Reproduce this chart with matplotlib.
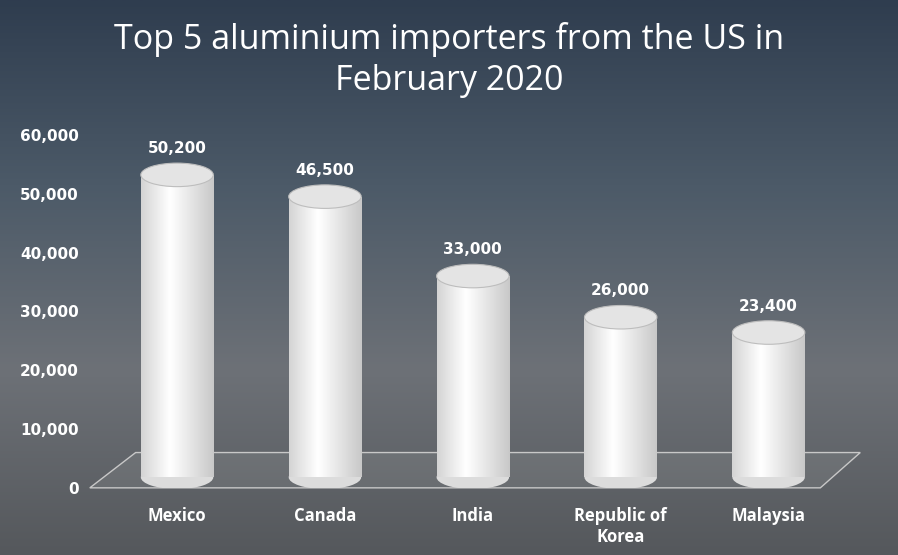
import numpy as np
import matplotlib
matplotlib.use("Agg")
import matplotlib.pyplot as plt
from matplotlib.patches import Ellipse, Rectangle, Polygon

countries = ["Mexico", "Canada", "India", "Republic of\nKorea", "Malaysia"]
values = [50200, 46500, 33000, 26000, 23400]
labels = ["50,200", "46,500", "33,000", "26,000", "23,400"]
yticks = [0, 10000, 20000, 30000, 40000, 50000, 60000]

fig = plt.figure(figsize=(8.98, 5.55), dpi=100)
bg = fig.add_axes([0, 0, 1, 1])
grad = np.linspace(0, 1, 256).reshape(-1, 1)
cmap = matplotlib.colors.LinearSegmentedColormap.from_list("bg", ["#2f3d4f", "#4c5a68", "#6d7177", "#55585c"])
bg.imshow(grad, aspect="auto", cmap=cmap, extent=[0, 1, 0, 1])
bg.axis("off")

fig.text(0.5, 0.96, "Top 5 aluminium importers from the US in\nFebruary 2020", ha="center", va="top",
         color="white", fontsize=24.5, family="Open Sans", linespacing=1.25)

ax = fig.add_axes([0.10, 0.121, 0.858, 0.636])
ax.set_facecolor("none")
for s in ax.spines.values():
    s.set_visible(False)
ax.set_yticks(yticks)
ax.set_yticklabels([f"{v:,}" for v in yticks], color="white", fontsize=11, fontweight="bold")
ax.set_xticks(range(len(countries)))
ax.set_xticklabels(countries, color="white", fontsize=12, fontweight="bold", family="Open Sans")
ax.tick_params(length=0, pad=8)
ax.tick_params(axis="x", pad=14)

floor = Polygon([[-0.59, 0], [4.35, 0], [4.62, 6000], [-0.28, 6000]], closed=True,
                facecolor=(1, 1, 1, 0.08), edgecolor="#c8c8c8", lw=1, clip_on=False)
ax.add_patch(floor)

w = 0.49
eh = 4000
depth = 3000  # 3D depth offset (visual)
hgrad = np.concatenate([np.linspace(0.78, 1.0, 40), np.linspace(1.0, 0.72, 60)]).reshape(1, -1)
bcmap = matplotlib.colors.LinearSegmentedColormap.from_list("b", ["#8a8a8a", "#ffffff"])
for i, v in enumerate(values):
    x0 = i - w / 2
    base = 1800
    top = v + depth
    rect = Rectangle((x0, base), w, top - base, transform=ax.transData, facecolor="none", edgecolor="none")
    ax.add_patch(rect)
    im = ax.imshow(hgrad, aspect="auto", cmap=bcmap, vmin=0.4, vmax=1.0,
                   extent=[x0, x0 + w, base, top], zorder=2)
    im.set_clip_path(rect)
    ax.add_patch(Ellipse((i, base), w, eh, facecolor="#dcdcdc", edgecolor="none", zorder=1.9))
    ax.add_patch(Ellipse((i, top), w, eh, facecolor="#e4e4e4", edgecolor="#bdbdbd", lw=0.8, zorder=3))
    ax.text(i, top + 3200, labels[i], ha="center", va="bottom", color="white", fontsize=11,
            fontweight="bold", zorder=4)

ax.set_xlim(-0.59, 4.62)
ax.set_ylim(0, 60000)
fig.savefig("out.png", dpi=100)
